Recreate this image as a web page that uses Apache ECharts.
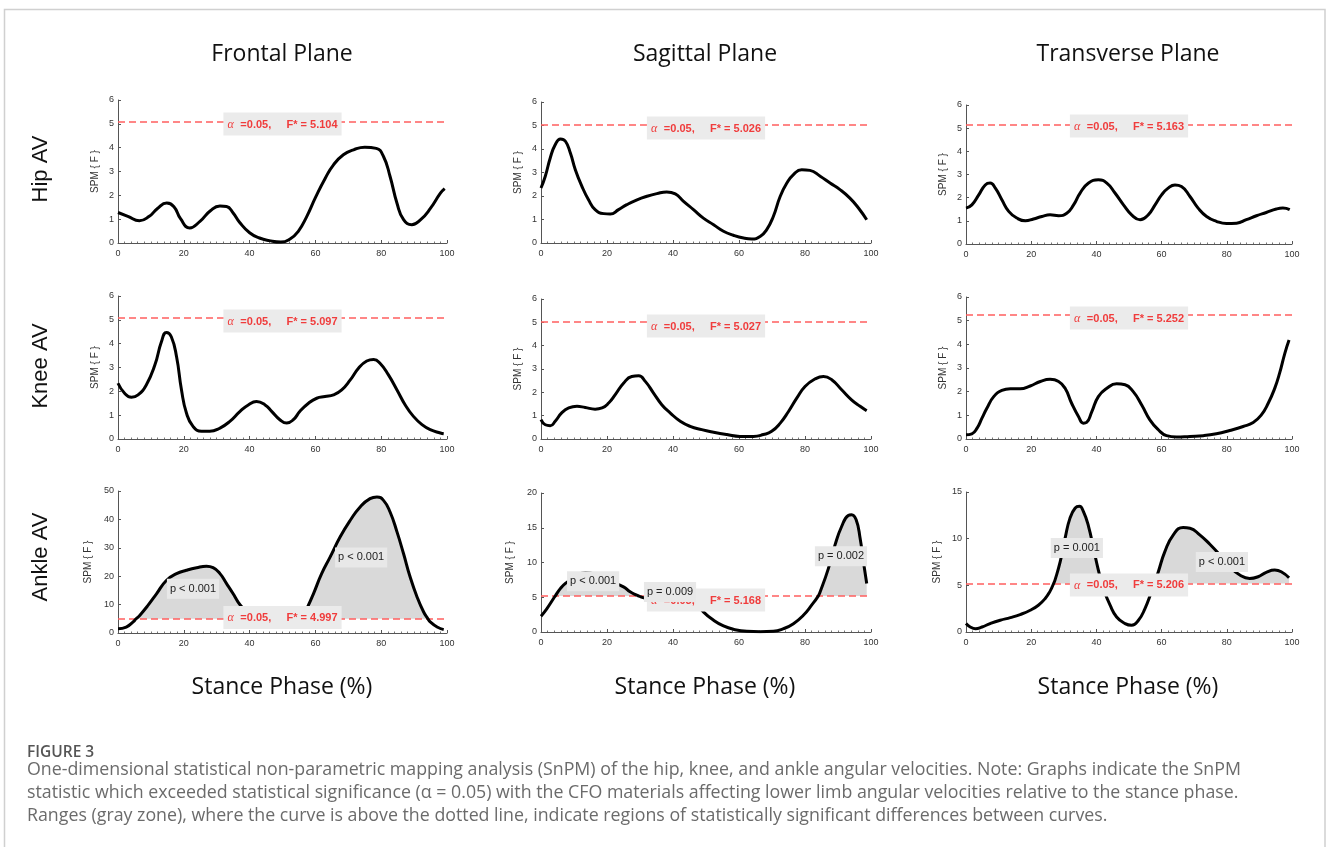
<!DOCTYPE html>
<html>
<head>
<meta charset="utf-8">
<script src="https://cdn.jsdelivr.net/npm/echarts@6/dist/echarts.min.js"></script>
<style>
  html, body { margin: 0; padding: 0; background: #fff; }
  #main { width: 1328px; height: 847px; }
</style>
</head>
<body>
<div id="main"></div>
<script>
// column / row names
const planes = ['Frontal Plane', 'Sagittal Plane', 'Transverse Plane'];
const joints = ['Hip AV', 'Knee AV', 'Ankle AV'];
const xLabel = 'Stance Phase (%)';

// SPM{F} curves, [stance %, F]
const hipFrontal = [[0,1.28],[3,1.12],[6.5,0.93],[9.5,1.12],[12,1.45],[14.8,1.68],[17,1.52],[19,1.02],[21.8,0.63],[25,0.92],[28,1.34],[31,1.55],[33,1.53],[35,1.26],[37,0.86],[40,0.43],[43,0.21],[46,0.1],[49.5,0.04],[52.3,0.17],[54.8,0.49],[57.4,1.12],[60,1.9],[63,2.72],[65.5,3.28],[68.5,3.7],[71.6,3.91],[75,4.02],[78.5,3.97],[80.7,3.63],[82.7,2.79],[84.8,1.67],[86.8,0.98],[89.3,0.77],[92,0.98],[95,1.46],[98,2.09],[99.3,2.28]];
const hipSagittal = [[0,2.34],[1.3,2.84],[2.8,3.62],[4.3,4.18],[5.9,4.43],[7.4,4.33],[8.9,3.83],[10.4,3.12],[12.4,2.41],[14.4,1.84],[16.4,1.42],[19,1.25],[21,1.23],[23.5,1.42],[26,1.63],[29.1,1.84],[32.1,1.99],[35.1,2.1],[38.1,2.17],[40.7,2.09],[43.2,1.77],[46.2,1.42],[49.2,1.06],[52.3,0.78],[55.3,0.5],[58.3,0.33],[61.4,0.21],[63.9,0.17],[66.4,0.28],[68.4,0.57],[70.4,1.13],[72.5,1.99],[74.5,2.55],[76.5,2.91],[79,3.12],[81.5,3.09],[84.6,2.84],[87.6,2.55],[90.6,2.27],[93.6,1.91],[96.2,1.49],[98.7,0.99]];
const hipTransverse = [[0,1.55],[1.8,1.69],[3.9,2.12],[5.9,2.55],[7.4,2.63],[9,2.41],[11,1.91],[13.1,1.41],[15.6,1.12],[18.2,1.0],[20.7,1.08],[23.3,1.19],[25.8,1.26],[28.4,1.22],[30.9,1.33],[33,1.69],[35,2.2],[37.6,2.63],[40.6,2.77],[43.2,2.63],[45.7,2.2],[48.3,1.69],[50.8,1.26],[53.4,1.05],[55.9,1.26],[58,1.69],[60,2.12],[62,2.41],[64.1,2.55],[66.1,2.48],[68.7,2.05],[71.2,1.55],[73.8,1.19],[76.8,0.98],[79.9,0.88],[83,0.9],[86,1.05],[89.1,1.22],[92.1,1.36],[95.2,1.51],[97.2,1.55],[99.3,1.48]];
const kneeFrontal = [[0,2.34],[2,1.92],[4.1,1.75],[6.1,1.85],[8.6,2.27],[11.2,3.1],[13.2,4.08],[14.7,4.47],[16.2,4.29],[17.8,3.45],[19.3,2.06],[20.8,1.09],[22.8,0.53],[25.4,0.32],[27.9,0.32],[31,0.46],[34,0.74],[37.1,1.16],[39.6,1.43],[42.1,1.57],[44.7,1.43],[46.7,1.16],[49.2,0.81],[51.3,0.67],[53.3,0.81],[55.3,1.16],[57.9,1.5],[60.4,1.71],[62.9,1.78],[65.5,1.85],[68,2.06],[70.6,2.48],[73.1,2.97],[75.6,3.27],[77.7,3.34],[79.7,3.17],[82.2,2.69],[84.8,2.06],[87.3,1.43],[89.8,0.95],[92.4,0.6],[94.9,0.39],[98,0.25],[99,0.22]];
const kneeSagittal = [[0,0.83],[1.3,0.61],[2.8,0.57],[4.3,0.76],[6.4,1.14],[8.4,1.33],[10.9,1.4],[13.4,1.35],[16.4,1.28],[18.5,1.33],[20.5,1.54],[22.5,1.9],[25,2.39],[27.5,2.68],[29.6,2.71],[31.6,2.47],[34.1,1.97],[36.6,1.47],[39.2,1.11],[42.2,0.76],[45.2,0.54],[48.7,0.4],[52.3,0.29],[56.3,0.19],[60.3,0.11],[64.4,0.11],[67.4,0.19],[69.9,0.33],[72.5,0.68],[75,1.18],[77.5,1.75],[80,2.25],[83,2.57],[85.6,2.68],[88.1,2.54],[91.1,2.11],[94.1,1.68],[96.7,1.4],[98.7,1.21]];
const kneeTransverse = [[0,0.18],[1.8,0.22],[3.4,0.46],[4.9,0.88],[6.4,1.3],[8.5,1.79],[11,2.05],[13.6,2.12],[16.6,2.12],[19.7,2.24],[22.8,2.43],[25.8,2.52],[28.4,2.43],[30.4,2.14],[32.4,1.51],[34.5,0.95],[36,0.67],[37,0.7],[38.6,1.16],[40.6,1.79],[43.2,2.14],[46.2,2.33],[48.8,2.29],[51.3,2.0],[53.9,1.44],[56.4,0.81],[59,0.39],[61.5,0.14],[64.6,0.08],[68.7,0.11],[72.8,0.14],[76.8,0.22],[80.9,0.36],[85,0.53],[88.1,0.7],[90.6,1.02],[92.7,1.51],[94.7,2.14],[96.2,2.78],[97.8,3.62],[99.1,4.18]];
const ankleFrontal = [[0,1.5],[2.5,2.1],[4.6,3.9],[5.5,5.0],[6.6,6.2],[9.1,9.7],[11.7,13.8],[14.7,18.5],[17.8,20.9],[20.8,22.1],[23.9,23.0],[26.9,23.5],[28.9,23.0],[31,20.9],[33,17.4],[35,13.8],[36.5,10.9],[37.8,9.0],[47,null],[57.4,8.6],[59.4,13.8],[61.9,20.9],[64.5,26.8],[67.5,33.8],[70.6,39.7],[73.6,44.4],[76.6,47.3],[78.7,47.9],[80.7,46.7],[82.7,42.6],[84.8,35.6],[86.8,27.9],[88.8,19.7],[90.9,12.7],[92.9,7.4],[94.2,5.0],[94.9,3.9],[97,2.1],[99,1.2]];
const ankleSagittal = [[0,2.27],[1.8,3.37],[3.8,4.82],[4.3,5.17],[5.9,6.27],[7.4,6.99],[10,7.8],[13.5,8.55],[17,8.2],[21,7.3],[25,6.5],[27,5.78],[29,5.3],[29.7,5.17],[31.1,4.92],[34,4.75],[38,4.6],[42,4.45],[45,4.3],[47.2,4.1],[49.2,2.9],[52.3,1.69],[55.3,0.87],[58.3,0.39],[62.4,0.1],[66.4,0.05],[70.4,0.1],[73.5,0.48],[76.5,1.2],[79.5,2.41],[82,3.86],[84,5.17],[84.6,5.78],[87.1,9.16],[89.1,12.53],[91.1,15.18],[93.1,16.77],[94.1,16.87],[95.5,16.14],[96.7,13.49],[97.7,10.12],[98.7,6.99]];
const ankleTransverse = [[0,0.9],[1.3,0.54],[2.9,0.36],[4.9,0.54],[7.4,0.9],[10.5,1.26],[13.6,1.54],[16.6,1.87],[19.7,2.33],[22.2,2.87],[24.3,3.59],[25.8,4.38],[26.9,5.21],[27.3,5.56],[28.9,7.53],[30.4,10.05],[31.9,12.2],[33.5,13.28],[34.8,13.46],[36,12.92],[37.6,11.3],[39.1,8.97],[40.6,6.64],[41.7,5.21],[42.1,4.66],[44.2,2.87],[46.2,1.61],[48.8,0.9],[50.8,0.72],[52.9,1.26],[54.9,2.51],[56.9,4.31],[57.8,5.21],[59,6.46],[61,8.61],[63.6,10.41],[66.6,11.2],[68.7,11.12],[71.7,10.41],[74.8,9.4],[77.9,8.25],[80.9,7.0],[84,6.1],[87,5.74],[89.6,5.92],[92.1,6.39],[94.7,6.64],[96.7,6.46],[99.1,5.81]];

const curves = [
  [hipFrontal, hipSagittal, hipTransverse],
  [kneeFrontal, kneeSagittal, kneeTransverse],
  [ankleFrontal, ankleSagittal, ankleTransverse]
];
// critical thresholds F*
const thresholds = [[5.104, 5.026, 5.163], [5.097, 5.027, 5.252], [4.997, 5.168, 5.206]];
const yMaxes = [[6, 6, 6], [6, 6, 6], [50, 20, 15]];
const yIntervals = [[1, 1, 1], [1, 1, 1], [10, 5, 5]];
const xTicks = [0, 20, 40, 60, 80, 100];
// cluster p values (ankle row only)
const pValues = [[], [], [], [], [], [], ['p < 0.001', 'p < 0.001'], ['p < 0.001', 'p = 0.009', 'p = 0.002'], ['p = 0.001', 'p < 0.001']];

// layout
const grids = [
  [118, 100, 329, 143], [541, 102, 330, 141], [966, 105, 326, 139],
  [118, 296, 329, 143], [541, 299, 330, 140], [966, 297, 326, 142],
  [118, 491, 329, 142], [541, 493, 330, 139], [966, 492, 326, 140]
];
const alphaSpots = [4.99, 4.89, 5.09, 4.95, 4.84, 5.11, 5.5, 4.6, 5.04];
const pSpots = [[], [], [], [], [], [], [[22.8, 15.6], [73.9, 26.6]], [[15.8, 7.3], [39.1, 5.75], [90.9, 10.9]], [[34.0, 9.0], [78.5, 7.5]]];
const nameGaps = [18, 18, 18, 18, 18, 18, 25, 26, 24];

const chart = echarts.init(document.getElementById('main'));

function shadeOf(points, thr) {
  return points.map(p => (p[1] !== null && p[1] >= thr - 0.01) ? p : [p[0], null]);
}

const xAxes = [], yAxes = [], series = [], gridOpts = [];
for (let i = 0; i < 9; i++) {
  const r = Math.floor(i / 3), c = i % 3;
  const g = grids[i];
  gridOpts.push({ left: g[0], top: g[1], width: g[2], height: g[3] });
  const axisCommon = {
    gridIndex: i,
    axisLine: { lineStyle: { color: '#555', width: 1 } },
    axisTick: { inside: true, length: 3, lineStyle: { color: '#555' } },
    splitLine: { show: false },
    axisLabel: { color: '#333', fontSize: 9, fontFamily: 'Liberation Sans' }
  };
  xAxes.push(Object.assign({}, axisCommon, {
    type: 'value', min: xTicks[0], max: xTicks[xTicks.length - 1], interval: 20,
    minorTick: { show: true, splitNumber: 10, length: 1.5, lineStyle: { color: '#777' } },
    axisLabel: Object.assign({}, axisCommon.axisLabel, { margin: 6 })
  }));
  yAxes.push(Object.assign({}, axisCommon, {
    type: 'value', min: 0, max: yMaxes[r][c], interval: yIntervals[r][c],
    name: 'SPM { F }', nameLocation: 'middle', nameGap: nameGaps[i],
    nameTextStyle: { color: '#333', fontSize: 10, fontFamily: 'Liberation Sans' },
    axisLabel: Object.assign({}, axisCommon.axisLabel, { margin: 4 })
  }));

  const data = curves[r][c];
  const thr = thresholds[r][c];
  const shade = shadeOf(data, thr);
  if (shade.some(p => p[1] !== null)) {
    series.push({
      type: 'line', xAxisIndex: i, yAxisIndex: i, data: shade, smooth: true,
      showSymbol: false, silent: true, z: 1, connectNulls: false,
      lineStyle: { width: 0 },
      areaStyle: { color: '#d9d9d9', opacity: 1, origin: thr }
    });
  }

  const labels = [{
    coord: [50, alphaSpots[i]],
    value: thr,
    label: {
      formatter: '{a|\u03b1}  {b|=0.05,     F* = ' + thr.toFixed(3) + '}',
      backgroundColor: '#ebebeb', padding: [6, 4, 5, 4],
      rich: {
        a: { fontFamily: 'Liberation Serif', fontStyle: 'italic', fontSize: 12, color: '#f03c3c' },
        b: { fontFamily: 'Liberation Sans', fontWeight: 'bold', fontSize: 11, color: '#f03c3c' }
      }
    }
  }];
  pValues[i].forEach((txt, k) => {
    labels.push({
      coord: pSpots[i][k],
      value: txt,
      label: {
        formatter: txt, backgroundColor: '#e8e8e8', padding: [5, 3, 4, 3],
        fontFamily: 'Liberation Sans', fontSize: 11, color: '#222'
      }
    });
  });

  series.push({
    type: 'line', xAxisIndex: i, yAxisIndex: i, data: data, smooth: true,
    showSymbol: false, connectNulls: false, z: 4,
    lineStyle: { color: '#000', width: 3 },
    markLine: {
      silent: true, symbol: 'none', z: 3,
      label: { show: false },
      lineStyle: { color: '#ff5f5f', type: [7, 4], width: 1.5, opacity: 1 },
      data: [{ yAxis: thr }]
    },
    markPoint: {
      silent: true, z: 10, symbol: 'rect', symbolSize: 1,
      itemStyle: { color: 'transparent' },
      label: { show: true, position: 'inside' },
      data: labels
    }
  });
}

const colCenters = [282, 705, 1128];
const rowCenters = [169, 366, 557];
const graphics = [{
  type: 'rect', silent: true,
  shape: { x: 4.5, y: 9.5, width: 1320.5, height: 900 },
  style: { fill: 'none', stroke: '#d0d0d0', lineWidth: 1.5 }
}];
planes.forEach((t, c) => {
  graphics.push({ type: 'text', x: colCenters[c], y: 54,
    style: { text: t, font: '23px "Open Sans"', fill: '#111', textAlign: 'center', textVerticalAlign: 'middle' } });
  graphics.push({ type: 'text', x: colCenters[c], y: 687,
    style: { text: xLabel, font: '23px "Open Sans"', fill: '#111', textAlign: 'center', textVerticalAlign: 'middle' } });
});
joints.forEach((t, r) => {
  graphics.push({ type: 'text', x: 41, y: rowCenters[r], rotation: Math.PI / 2,
    style: { text: t, font: '22px "Liberation Sans"', fill: '#111', textAlign: 'center', textVerticalAlign: 'middle' } });
});
const captionLines = [
  'One-dimensional statistical non-parametric mapping analysis (SnPM) of the hip, knee, and ankle angular velocities. Note: Graphs indicate the SnPM',
  'statistic which exceeded statistical significance (\u03b1 = 0.05) with the CFO materials affecting lower limb angular velocities relative to the stance phase.',
  'Ranges (gray zone), where the curve is above the dotted line, indicate regions of statistically significant differences between curves.'
];
graphics.push({ type: 'text', x: 27, y: 753,
  style: { text: 'FIGURE 3', font: '600 15.5px "Open Sans"', fill: '#555', textVerticalAlign: 'middle' } });
captionLines.forEach((t, k) => {
  graphics.push({ type: 'text', x: 27, y: 770 + k * 23,
    style: { text: t, font: '17.8px "Open Sans"', fill: '#6b6b6b', textVerticalAlign: 'middle' } });
});

chart.setOption({
  animation: false,
  grid: gridOpts,
  xAxis: xAxes,
  yAxis: yAxes,
  series: series,
  graphic: graphics
});
</script>
</body>
</html>
